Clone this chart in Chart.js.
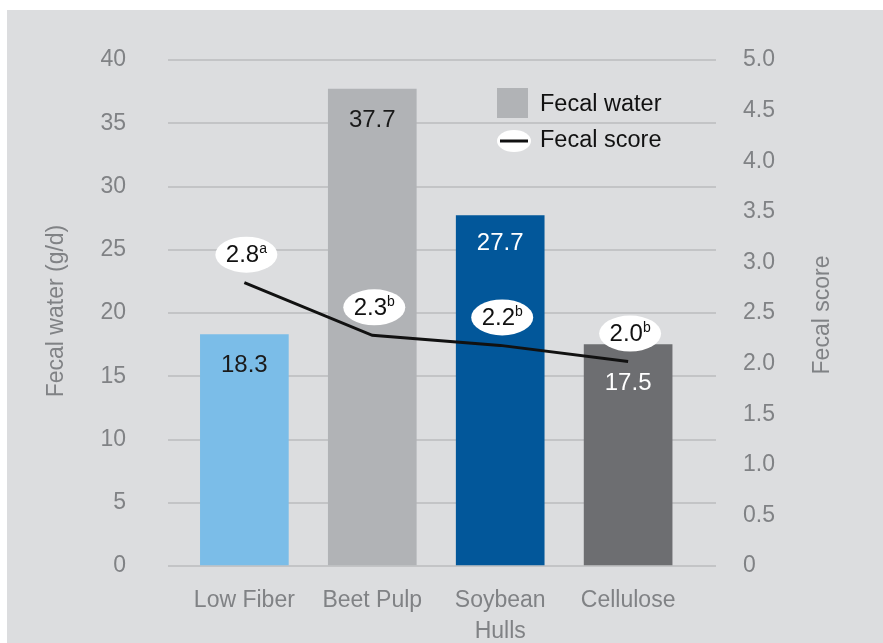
<!DOCTYPE html>
<html>
<head>
<meta charset="utf-8">
<script src="https://cdn.jsdelivr.net/npm/chart.js@4"></script>
<style>
  html, body { margin: 0; padding: 0; background: #ffffff; }
  #wrap { width: 883px; height: 643px; }
</style>
</head>
<body>
<div id="wrap"><canvas id="grafico"></canvas></div>
<script>
// =======================
// DADOS
// =======================

const categorias = ["Low Fiber", "Beet Pulp", ["Soybean", "Hulls"], "Cellulose"];

// fecal water (g/d), eixo esquerdo
const fecalWater = [18.3, 37.7, 27.7, 17.5];

// fecal score, eixo direito
const fecalScore = [2.8, 2.28, 2.18, 2.02];
const scoreTexto = ["2.8", "2.3", "2.2", "2.0"];
const scoreLetra = ["a", "b", "b", "b"];

const coresBarras = ["#7bbde8", "#b1b3b6", "#02579a", "#6d6e71"];

const FONTE = "'Liberation Sans', 'Helvetica Neue', Arial, sans-serif";
const CINZA_TEXTO = "#808285";

// =======================
// PLUGINS
// =======================

const fundo = {
    id: "fundo",
    beforeDraw(chart) {
        const c = chart.ctx;
        c.save();
        c.fillStyle = "#ffffff";
        c.fillRect(0, 0, chart.width, chart.height);
        c.fillStyle = "#dcdddf";
        c.fillRect(7, 10, chart.width - 7, chart.height - 10);
        c.restore();
    }
};

const titulosEixos = {
    id: "titulosEixos",
    afterDraw(chart) {
        const c = chart.ctx;
        const meio = (chart.chartArea.top + chart.chartArea.bottom) / 2;
        c.save();
        c.fillStyle = CINZA_TEXTO;
        c.font = "23px " + FONTE;
        c.textAlign = "center";
        c.textBaseline = "middle";

        c.save();
        c.translate(57, meio - 2);
        c.rotate(-Math.PI / 2);
        c.fillText("Fecal water (g/d)", 0, 0);
        c.restore();

        c.save();
        c.translate(823, meio + 2);
        c.rotate(-Math.PI / 2);
        c.fillText("Fecal score", 0, 0);
        c.restore();

        c.restore();
    }
};

const rotulos = {
    id: "rotulos",
    afterDatasetsDraw(chart) {
        const c = chart.ctx;
        const barras = chart.getDatasetMeta(1).data;
        const pontos = chart.getDatasetMeta(0).data;
        const deslocar = [31, 31, 28, 39];
        const corTexto = ["#1a1a1a", "#1a1a1a", "#ffffff", "#ffffff"];

        c.save();
        c.textAlign = "center";
        c.textBaseline = "middle";

        // valores nas barras
        barras.forEach((b, i) => {
            c.font = "24px " + FONTE;
            c.fillStyle = corTexto[i];
            c.fillText(fecalWater[i].toFixed(1), b.x, b.y + deslocar[i]);
        });

        // balões do fecal score
        pontos.forEach((p, i) => {
            const cx = barras[i].x + 2;
            const cy = p.y - 28;
            c.fillStyle = "#ffffff";
            c.beginPath();
            c.ellipse(cx, cy, 31, 18, 0, 0, Math.PI * 2);
            c.fill();

            c.font = "24px " + FONTE;
            const w1 = c.measureText(scoreTexto[i]).width;
            c.font = "14px " + FONTE;
            const w2 = c.measureText(scoreLetra[i]).width;
            const x0 = cx - (w1 + w2) / 2;

            c.fillStyle = "#111111";
            c.textAlign = "left";
            c.font = "24px " + FONTE;
            c.fillText(scoreTexto[i], x0, cy + 1);
            c.font = "14px " + FONTE;
            c.fillText(scoreLetra[i], x0 + w1, cy - 5);
            c.textAlign = "center";
        });

        c.restore();
    }
};

const legenda = {
    id: "legenda",
    afterDraw(chart) {
        const c = chart.ctx;
        c.save();
        c.fillStyle = "#b1b3b6";
        c.fillRect(497, 88, 31, 30);

        c.fillStyle = "#ffffff";
        c.beginPath();
        c.ellipse(514, 141, 17, 11, 0, 0, Math.PI * 2);
        c.fill();
        c.strokeStyle = "#111111";
        c.lineWidth = 3;
        c.beginPath();
        c.moveTo(500, 141);
        c.lineTo(528, 141);
        c.stroke();

        c.fillStyle = "#111111";
        c.font = "23.5px " + FONTE;
        c.textAlign = "left";
        c.textBaseline = "middle";
        c.fillText("Fecal water", 540, 105);
        c.fillText("Fecal score", 540, 141);
        c.restore();
    }
};

// =======================
// GRÁFICO
// =======================

const ctx = document.getElementById("grafico");

const grafico = new Chart(ctx, {
    type: "bar",
    data: {
        datasets: [
            {
                type: "line",
                label: "Fecal score",
                data: fecalScore.map((v, i) => ({ x: i, y: v })),
                yAxisID: "y1",
                borderColor: "#111111",
                borderWidth: 3,
                pointRadius: 0,
                tension: 0,
                order: 0
            },
            {
                label: "Fecal water",
                data: fecalWater.map((v, i) => ({ x: i, y: v })),
                yAxisID: "y",
                backgroundColor: coresBarras,
                barThickness: 88,
                order: 1
            }
        ]
    },
    options: {
        responsive: true,
        maintainAspectRatio: false,
        animation: false,
        layout: { padding: { top: 60, bottom: 0, left: 0, right: 0 } },
        plugins: {
            legend: { display: false },
            tooltip: { enabled: false }
        },
        scales: {
            x: {
                type: "linear",
                min: -0.597,
                max: 3.687,
                offset: false,
                grid: { display: false, offset: false },
                border: { display: false },
                afterBuildTicks: (s) => {
                    s.ticks = categorias.map((_, i) => ({ value: i }));
                },
                afterFit: (s) => { s.height = 77; },
                ticks: {
                    callback: (v) => categorias[v],
                    color: CINZA_TEXTO,
                    font: { family: FONTE, size: 23, lineHeight: 1.35 },
                    padding: 11,
                    maxRotation: 0,
                    autoSkip: false
                }
            },
            y: {
                position: "left",
                min: 0,
                max: 40,
                afterFit: (s) => { s.width = 168; },
                grid: { color: "#c3c4c6", lineWidth: 2, drawTicks: false },
                border: { display: false },
                ticks: {
                    stepSize: 5,
                    color: CINZA_TEXTO,
                    font: { family: FONTE, size: 23 },
                    padding: 42
                }
            },
            y1: {
                position: "right",
                min: 0,
                max: 5,
                afterFit: (s) => { s.width = 167; },
                grid: { display: false, drawTicks: false },
                border: { display: false },
                ticks: {
                    stepSize: 0.5,
                    color: CINZA_TEXTO,
                    font: { family: FONTE, size: 23 },
                    padding: 27,
                    callback: (v) => (v === 0 ? "0" : v.toFixed(1))
                }
            }
        }
    },
    plugins: [fundo, titulosEixos, rotulos, legenda]
});
</script>
</body>
</html>
